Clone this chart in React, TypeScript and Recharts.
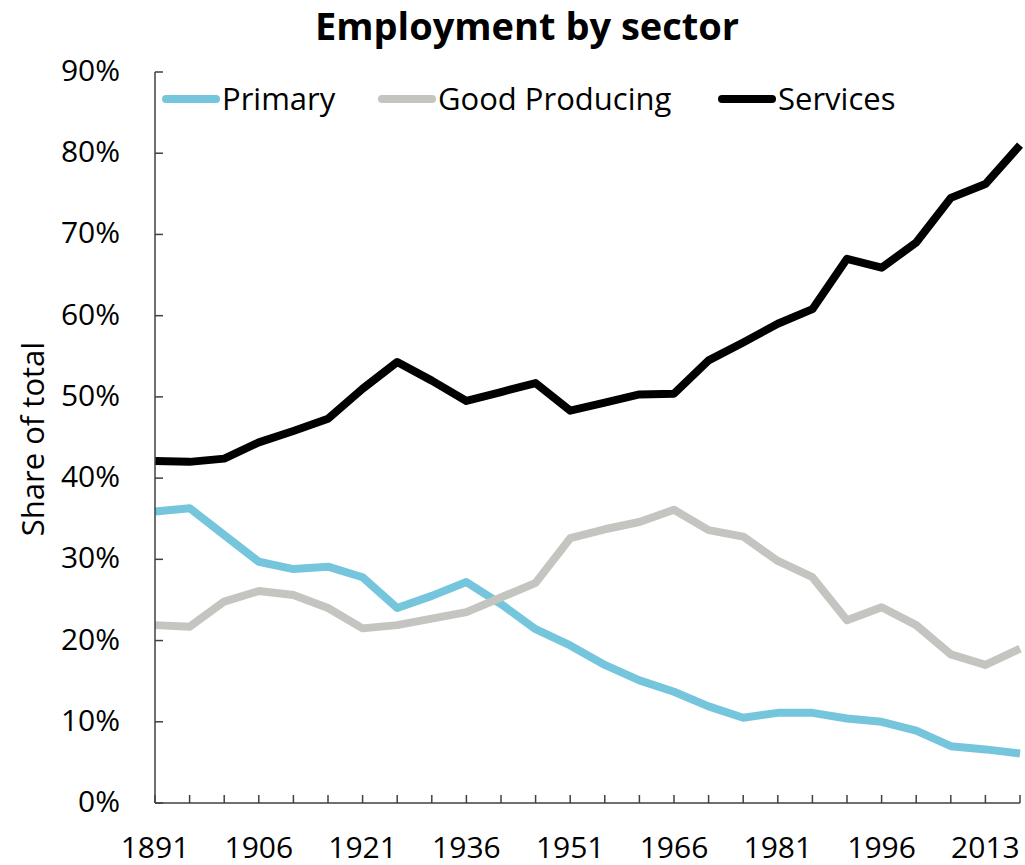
import { LineChart, Line, XAxis, YAxis } from 'recharts'

const YEARS = [
  '1891', '1896', '1901', '1906', '1911', '1916', '1921', '1926', '1931',
  '1936', '1941', '1946', '1951', '1956', '1961', '1966', '1971', '1976',
  '1981', '1986', '1991', '1996', '2001', '2006', '2013', '2018',
]

const PRIMARY = [
  35.9, 36.3, 33.0, 29.7, 28.8, 29.1, 27.8, 24.0, 25.5, 27.2, 24.5, 21.4, 19.4,
  17.0, 15.1, 13.7, 11.9, 10.5, 11.1, 11.1, 10.4, 10.0, 8.9, 7.0, 6.6, 6.1,
]

const GOODS = [
  21.9, 21.7, 24.8, 26.1, 25.6, 24.0, 21.5, 21.9, 22.7, 23.5, 25.3, 27.1, 32.6,
  33.7, 34.6, 36.1, 33.6, 32.8, 29.8, 27.8, 22.5, 24.1, 21.9, 18.3, 17.0, 19.0,
]

const SERVICES = [
  42.1, 42.0, 42.4, 44.4, 45.8, 47.3, 51.0, 54.3, 52.0, 49.5, 50.6, 51.7, 48.3,
  49.3, 50.3, 50.4, 54.5, 56.7, 59.0, 60.8, 67.0, 65.9, 69.0, 74.5, 76.2, 81.0,
]

const Y_TICKS = [0, 10, 20, 30, 40, 50, 60, 70, 80, 90]

const SERIES = [
  { key: 'primary', name: 'Primary', color: '#75C6DC' },
  { key: 'goods', name: 'Good Producing', color: '#C4C4C0' },
  { key: 'services', name: 'Services', color: '#000000' },
]

const FONT = '"Open Sans", sans-serif'
const AXIS_COLOR = '#404040'

const data = YEARS.map((year, i) => ({
  year,
  primary: PRIMARY[i],
  goods: GOODS[i],
  services: SERVICES[i],
}))

function XTick({ x, y, payload, index }: any) {
  return (
    <g>
      <line x1={x} x2={x} y1={y} y2={y - 8} stroke={AXIS_COLOR} strokeWidth={1.5} />
      {index % 3 === 0 && (
        <text
          x={x}
          y={y + 55}
          textAnchor="middle"
          fontSize={30}
          fontFamily={FONT}
          fill="#000"
        >
          {payload.value}
        </text>
      )}
    </g>
  )
}

function YTick({ x, y, payload }: any) {
  return (
    <g>
      <line x1={x} x2={x + 8} y1={y} y2={y} stroke={AXIS_COLOR} strokeWidth={1.5} />
      <text
        x={x - 35}
        y={y + 9}
        textAnchor="end"
        fontSize={30}
        fontFamily={FONT}
        fill="#000"
      >
        {payload.value}%
      </text>
    </g>
  )
}

// legend items: swatch start x, text start x
const LEGEND_X = [162, 378, 718]

export default function App() {
  return (
    <div style={{ position: 'absolute', left: 0, top: 0, width: 1025, height: 865, background: '#fff' }}>
      <LineChart
        width={1025}
        height={865}
        data={data}
        margin={{ top: 72, right: 5, bottom: 22, left: 55 }}
      >
        <XAxis
          dataKey="year"
          interval={0}
          tickSize={0}
          tickMargin={0}
          height={40}
          axisLine={{ stroke: AXIS_COLOR, strokeWidth: 1.5 }}
          tickLine={false}
          tick={<XTick />}
        />
        <YAxis
          width={100}
          domain={[0, 90]}
          ticks={Y_TICKS}
          tickSize={0}
          tickMargin={0}
          axisLine={{ stroke: AXIS_COLOR, strokeWidth: 1.5 }}
          tickLine={false}
          tick={<YTick />}
        />
        {SERIES.map((s) => (
          <Line
            key={s.key}
            type="linear"
            dataKey={s.key}
            name={s.name}
            stroke={s.color}
            strokeWidth={8}
            strokeLinejoin="round"
            dot={false}
            activeDot={false}
            isAnimationActive={false}
          />
        ))}
      </LineChart>
      <svg
        width={1025}
        height={865}
        style={{ position: 'absolute', left: 0, top: 0, pointerEvents: 'none' }}
      >
        <text
          x={527}
          y={40}
          textAnchor="middle"
          fontSize={38}
          fontWeight={700}
          fontFamily={FONT}
          fill="#000"
        >
          Employment by sector
        </text>
        <text
          x={44}
          y={439}
          transform="rotate(-90, 44, 439)"
          textAnchor="middle"
          fontSize={31}
          fontFamily={FONT}
          fill="#000"
        >
          Share of total
        </text>
        {SERIES.map((s, i) => (
          <g key={s.key}>
            <line
              x1={LEGEND_X[i] + 4}
              x2={LEGEND_X[i] + 54}
              y1={99}
              y2={99}
              stroke={s.color}
              strokeWidth={8}
              strokeLinecap="round"
            />
            <text x={LEGEND_X[i] + 60} y={110} fontSize={31} fontFamily={FONT} fill="#000">
              {s.name}
            </text>
          </g>
        ))}
      </svg>
    </div>
  )
}
